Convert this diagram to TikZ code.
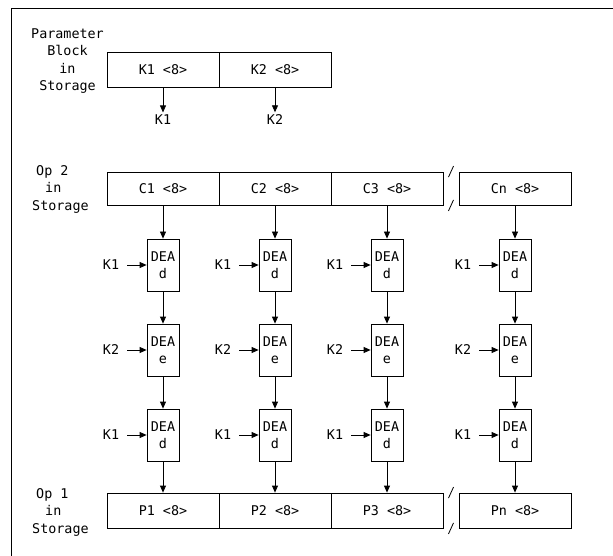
\documentclass[tikz,border=0pt]{standalone}
\usepackage{fontspec}
\setmonofont{DejaVu Sans Mono}
\usetikzlibrary{arrows.meta,calc}
\begin{document}
\begin{tikzpicture}[x=1pt,y=-1pt,
  lbl/.style={font=\ttfamily\fontsize{13.4}{17.5}\selectfont},
  cell/.style={draw, line width=0.8pt, minimum width=112pt, minimum height=34pt, inner sep=0pt, lbl},
  deabox/.style={draw, line width=0.8pt, minimum width=32pt, minimum height=52pt, inner sep=0pt, align=center, font=\ttfamily\fontsize{13.4}{16.5}\selectfont},
  keylbl/.style={lbl, inner xsep=8pt, inner ysep=2pt},
  arr/.style={line width=0.8pt, -{Triangle[width=6pt,length=7pt]}},
  brk/.style={line width=0.8pt}]
\useasboundingbox (0,0) rectangle (613,556);
% frame (top and left edges only)
\draw[line width=0.8pt] (11,556) -- (11,8) -- (613,8);

% Parameter block
\node[lbl, align=center] (plabel) at (67.5,61) {Parameter\\Block\\in\\Storage};
\node[cell, minimum height=35pt] (pk1) at (163,69.5) {K1 <8>};
\node[cell, minimum height=35pt] (pk2) at (275,69.5) {K2 <8>};
\node[keylbl, inner xsep=2pt] (ok1) at (163,119.5) {K1};
\node[keylbl, inner xsep=2pt] (ok2) at (275,119.5) {K2};
\draw[arr] (pk1) -- (ok1);
\draw[arr] (pk2) -- (ok2);

% Op 2 and Op 1 labels
\node[lbl, align=left, anchor=west, inner sep=0pt] (op2label) at (32,189) {\hspace*{4pt}Op 2\\\hspace*{13pt}in\\Storage};
\node[lbl, align=left, anchor=west, inner sep=0pt] (op1label) at (32,512) {\hspace*{4pt}Op 1\\\hspace*{13pt}in\\Storage};

\foreach \col/\xx in {1/163,2/275,3/387,n/515}{
  \node[cell, minimum height=33pt] (c\col) at (\xx,188.5) {C\col{} <8>};
  \node[cell, minimum height=35pt] (p\col) at (\xx,510.5) {P\col{} <8>};
  \node[deabox] (da\col) at (\xx,265) {DEA\\d};
  \node[deabox] (db\col) at (\xx,350) {DEA\\e};
  \node[deabox] (dc\col) at (\xx,435) {DEA\\d};
  \node[keylbl] (ka\col) at (\xx-52,265) {K1};
  \node[keylbl] (kb\col) at (\xx-52,350) {K2};
  \node[keylbl] (kc\col) at (\xx-52,435) {K1};
  \draw[arr] (c\col) -- (da\col);
  \draw[arr] (da\col) -- (db\col);
  \draw[arr] (db\col) -- (dc\col);
  \draw[arr] (dc\col) -- (p\col);
  \draw[arr] (ka\col) -- (da\col);
  \draw[arr] (kb\col) -- (db\col);
  \draw[arr] (kc\col) -- (dc\col);
}

% break marks
\draw[brk] ($(c3.north east)!0.5!(cn.north west)$) +(-2.5,5.5) -- +(2.5,-5.5);
\draw[brk] ($(c3.south east)!0.5!(cn.south west)$) +(-2.5,5.5) -- +(2.5,-5.5);
\draw[brk] ($(p3.north east)!0.5!(pn.north west)$) +(-2.5,5.5) -- +(2.5,-5.5);
\draw[brk] ($(p3.south east)!0.5!(pn.south west)$) +(-2.5,5.5) -- +(2.5,-5.5);
\end{tikzpicture}
\end{document}
